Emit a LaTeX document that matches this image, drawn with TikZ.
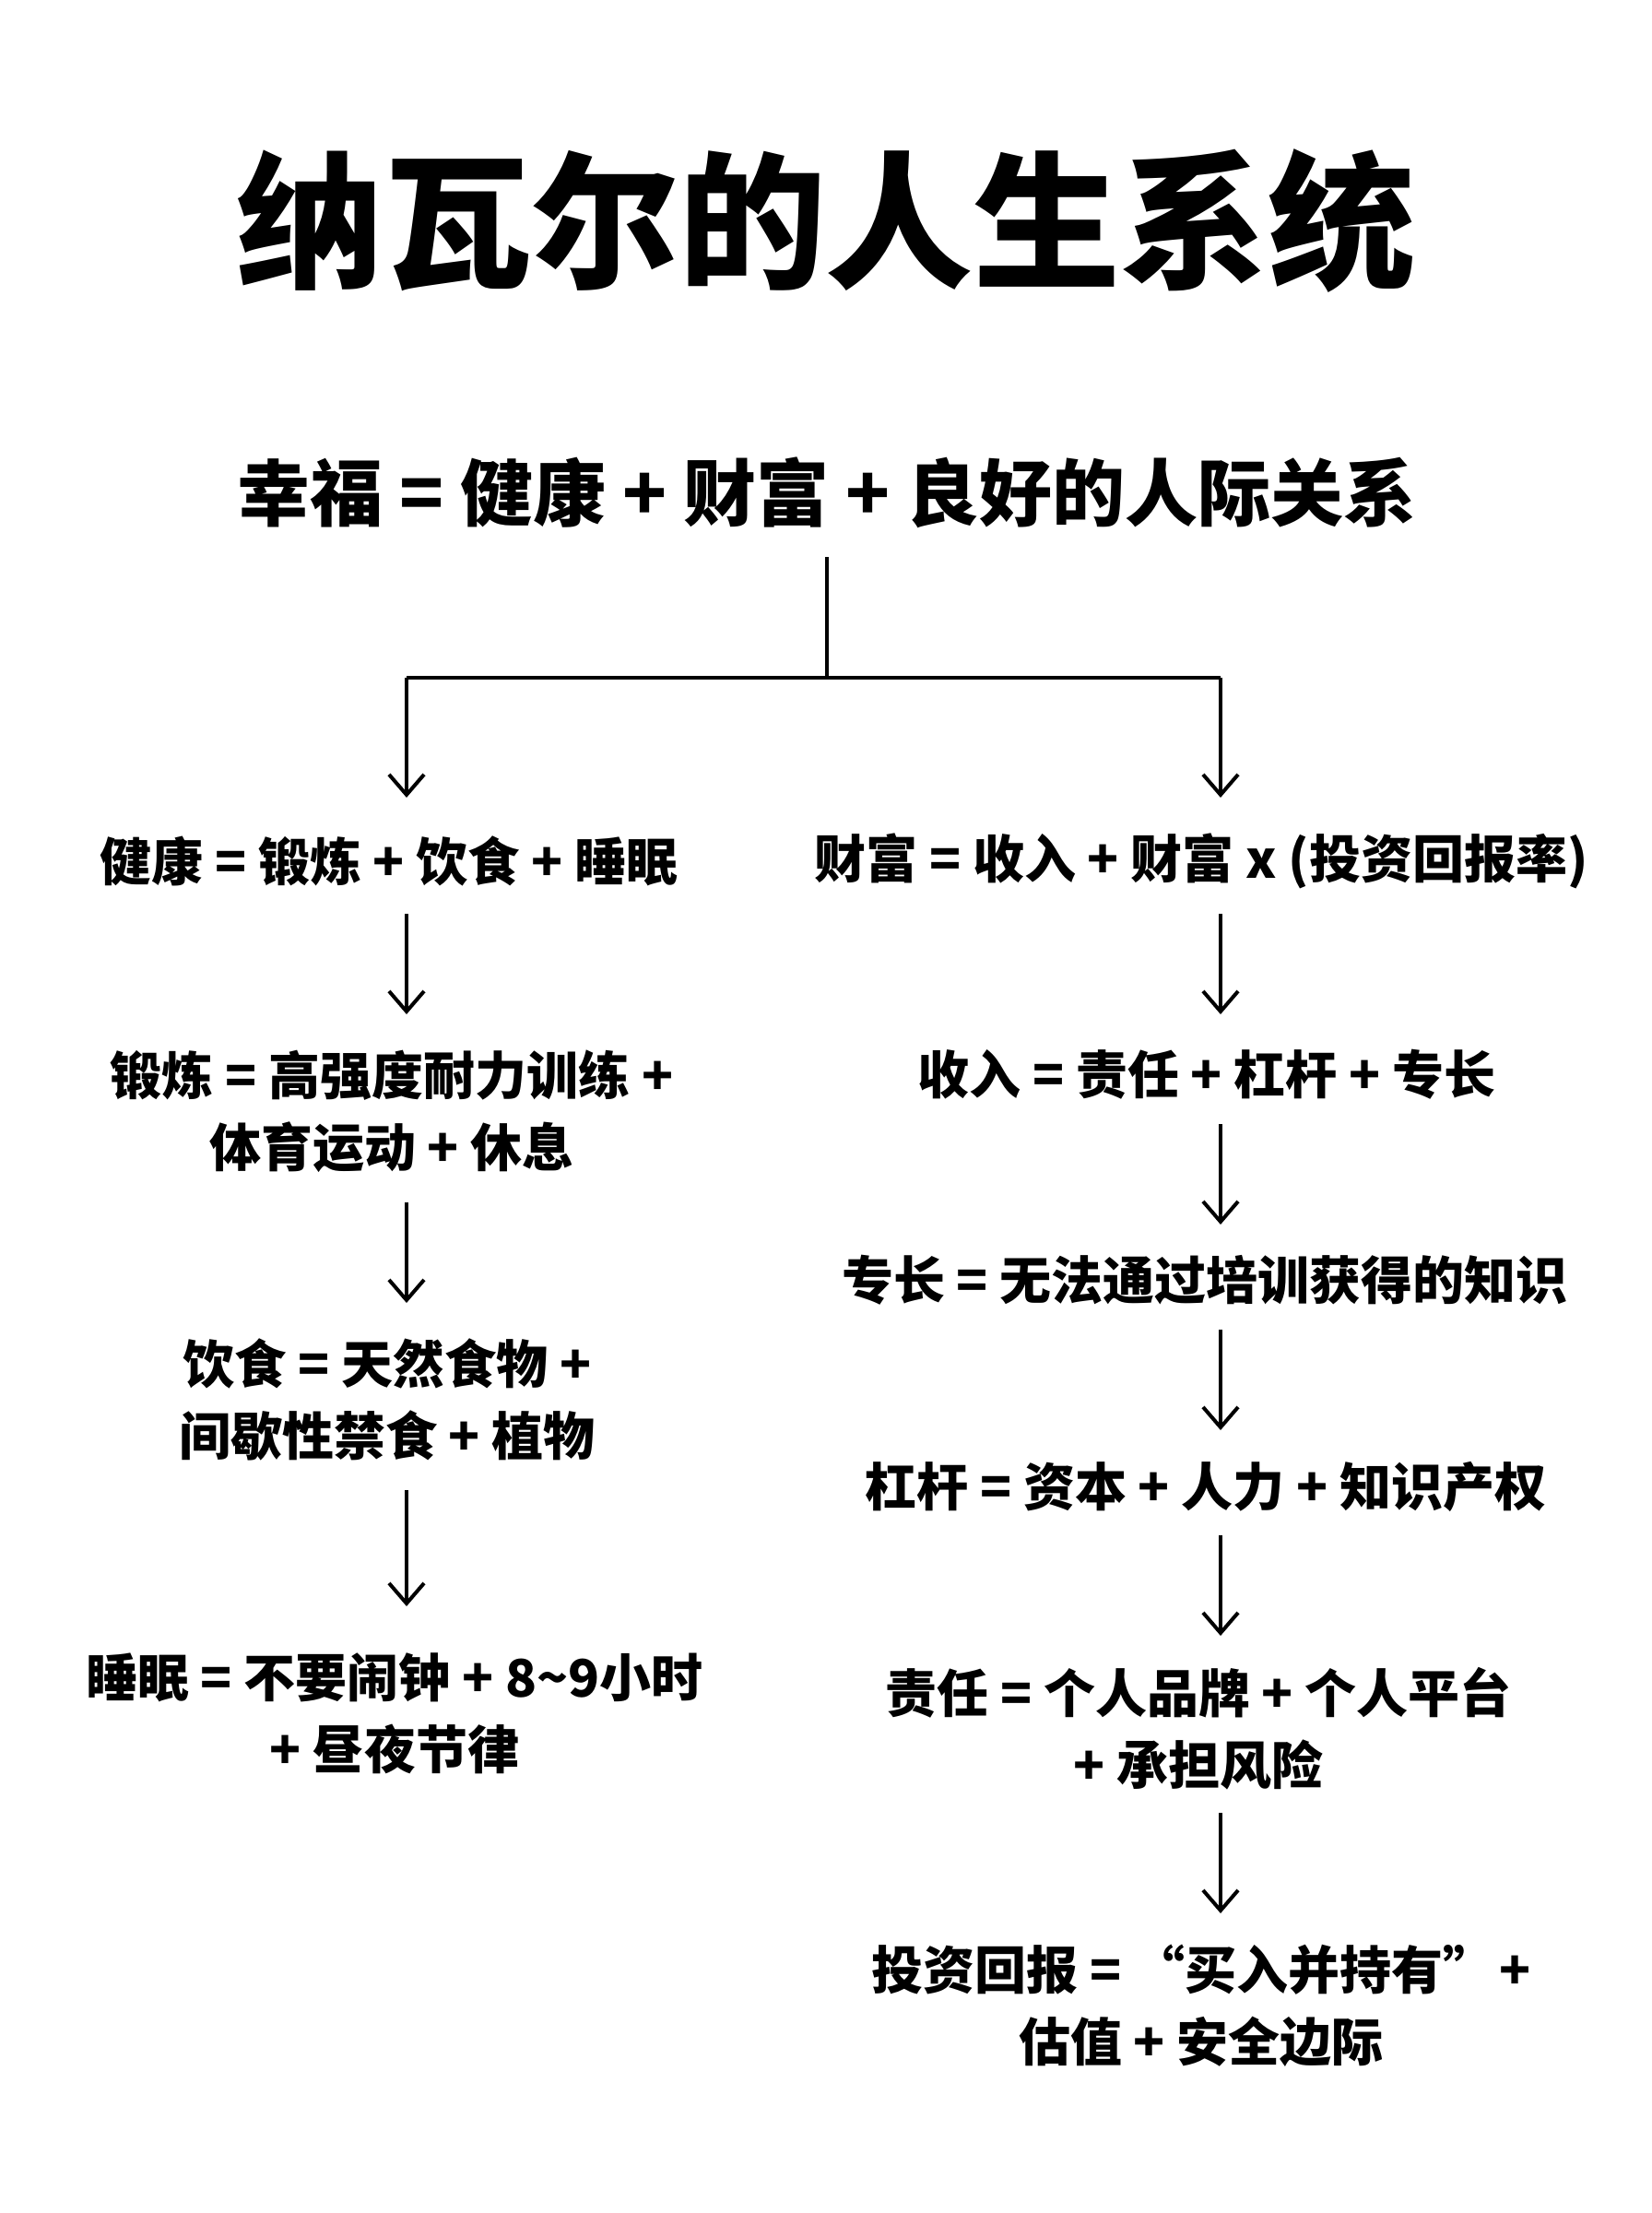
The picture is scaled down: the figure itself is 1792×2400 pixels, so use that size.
\documentclass[tikz,border=0pt]{standalone}
\usepackage{fontspec}
\setmainfont{Noto Sans CJK SC}
\usetikzlibrary{arrows.meta}
\begin{document}
\begin{tikzpicture}[x=0.5pt,y=-0.5pt,
  conn/.style={line width=2pt, line join=miter},
  arr/.style={line width=2pt,-{Straight Barb[length=11pt,width=19pt]}},
  titletext/.style={font=\fontsize{80}{96}\selectfont\bfseries, inner sep=0pt},
  eqtext/.style={font=\fontsize{39.5}{48}\selectfont\bfseries, inner sep=0pt},
  itemtext/.style={font=\fontsize{28}{39}\selectfont\bfseries, align=center, inner sep=0pt}]
\fill[white] (0,0) rectangle (1792,2400);
\useasboundingbox (0,0) rectangle (1792,2400);

% texts
\node[titletext] (title) at (896,240) {纳瓦尔的人生系统};
\node[eqtext] (eq) at (897,534) {幸福 = 健康 + 财富 + 良好的人际关系};

\node[itemtext] (L1) at (422,934) {健康 = 锻炼 + 饮食 + 睡眠};
\node[itemtext] (L2) at (425,1205) {锻炼 = 高强度耐力训练 +\\体育运动 + 休息};
\node[itemtext] (L3) at (420,1518) {饮食 = 天然食物 +\\间歇性禁食 + 植物};
\node[itemtext] (L4) at (428,1858) {睡眠 = 不要闹钟 + 8\textasciitilde 9小时\\+ 昼夜节律};

\node[itemtext] (R1) at (1303,934) {财富 = 收入 + 财富 x (投资回报率)};
\node[itemtext] (R2) at (1309,1165) {收入 = 责任 + 杠杆 + 专长};
\node[itemtext] (R3) at (1307,1388) {专长 = 无法通过培训获得的知识};
\node[itemtext] (R4) at (1308,1612) {杠杆 = 资本 + 人力 + 知识产权};
\node[itemtext] (R5) at (1300,1875) {责任 = 个人品牌 + 个人平台\\+ 承担风险};
\node[itemtext] (R6) at (1303,2175) {投资回报 = “买入并持有”\kern-0.15em\ +\\估值 + 安全边际};

% ports
\coordinate (eqout) at (897,604);
\coordinate (j) at (897,735);
\coordinate (jl) at (441,735);
\coordinate (jr) at (1324,735);
\coordinate (L1in) at (441,865);   \coordinate (L1out) at (441,991);
\coordinate (L2in) at (441,1100);  \coordinate (L2out) at (441,1304);
\coordinate (L3in) at (441,1413);  \coordinate (L3out) at (441,1616);
\coordinate (L4in) at (441,1742);
\coordinate (R1in) at (1324,865);  \coordinate (R1out) at (1324,991);
\coordinate (R2in) at (1324,1100); \coordinate (R2out) at (1324,1219);
\coordinate (R3in) at (1324,1328); \coordinate (R3out) at (1324,1442);
\coordinate (R4in) at (1324,1551); \coordinate (R4out) at (1324,1665);
\coordinate (R5in) at (1324,1774); \coordinate (R5out) at (1324,1966);
\coordinate (R6in) at (1324,2075);

% connectors
\draw[conn] (eqout) -- (j);
\draw[conn] (jl) -- (jr);
\draw[arr] (jl) -- (L1in);
\draw[arr] (jr) -- (R1in);
\draw[arr] (L1out) -- (L2in);
\draw[arr] (L2out) -- (L3in);
\draw[arr] (L3out) -- (L4in);
\draw[arr] (R1out) -- (R2in);
\draw[arr] (R2out) -- (R3in);
\draw[arr] (R3out) -- (R4in);
\draw[arr] (R4out) -- (R5in);
\draw[arr] (R5out) -- (R6in);
\end{tikzpicture}
\end{document}
